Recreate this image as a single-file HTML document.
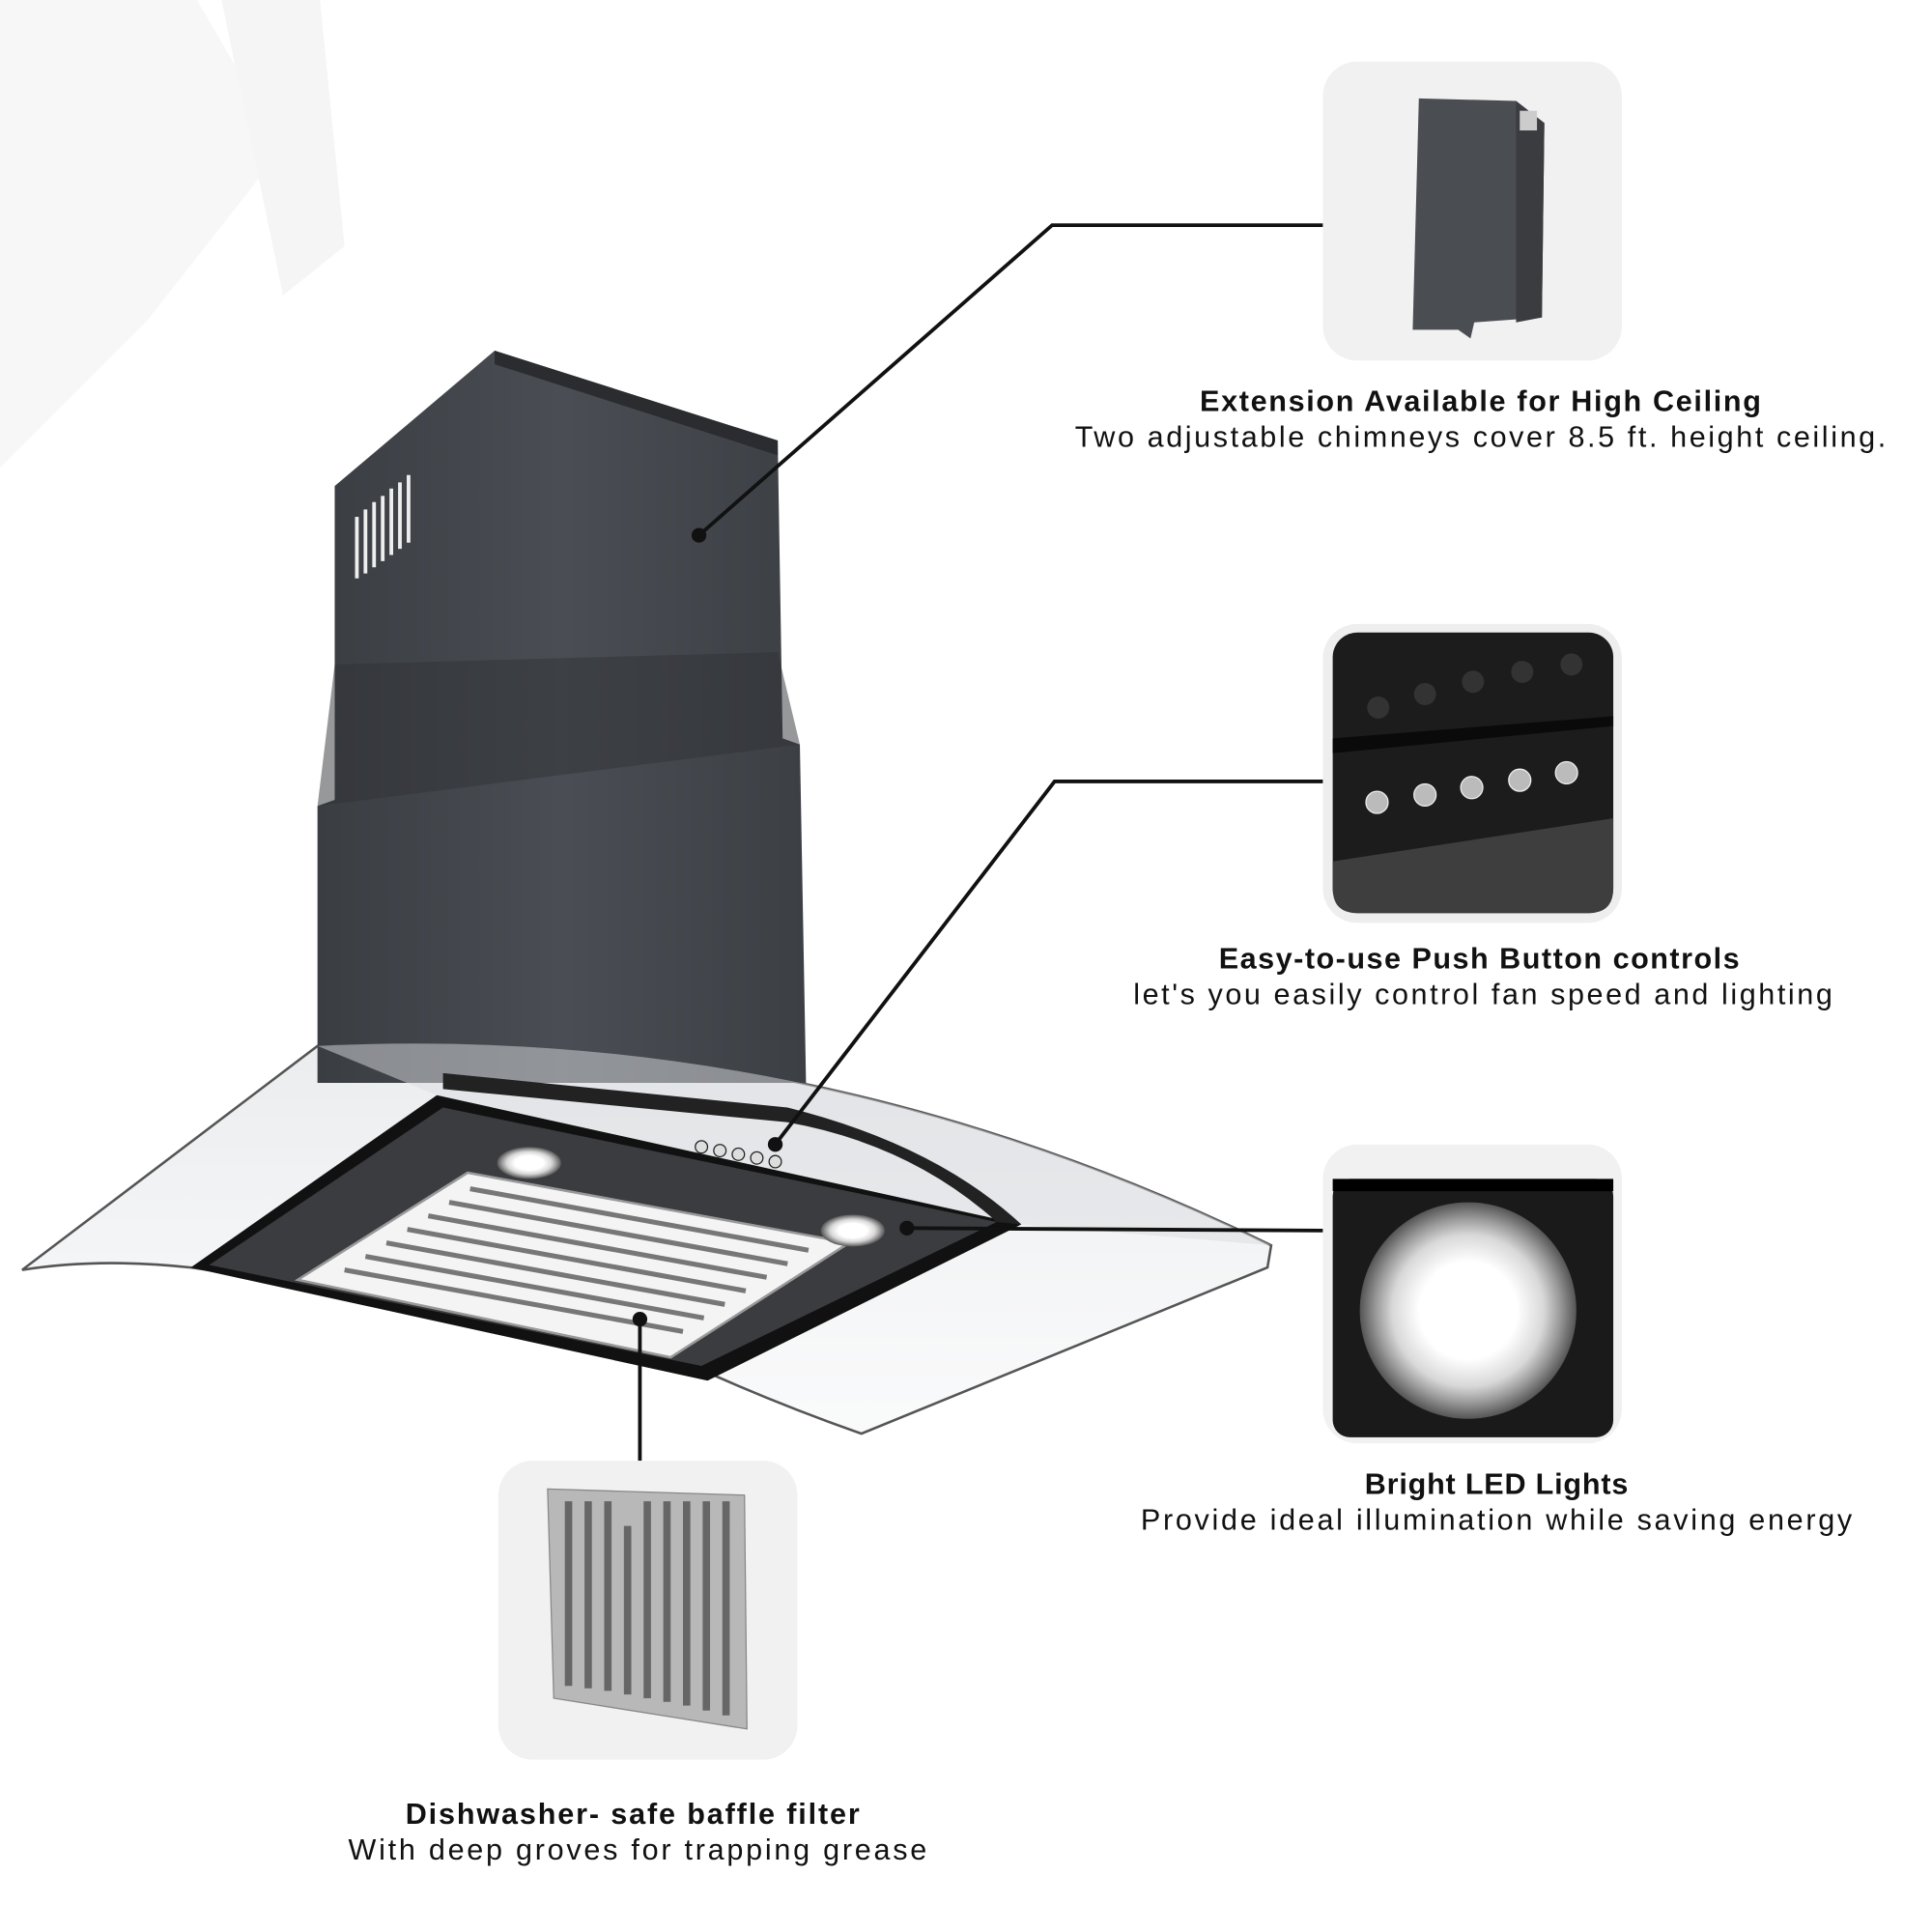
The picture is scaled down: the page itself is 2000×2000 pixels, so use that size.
<!DOCTYPE html>
<html><head><meta charset="utf-8"><style>
html,body{margin:0;padding:0;background:#fff;}
svg{display:block;}
text{font-family:"Liberation Sans",sans-serif;fill:#111;}
.b{font-weight:bold;font-size:24px;}
.n{font-size:24px;}
</style></head><body>
<svg width="2000" height="2000" viewBox="0 0 1570 1570" xmlns="http://www.w3.org/2000/svg">
<defs>
<linearGradient id="ch" x1="0" y1="0" x2="1" y2="0">
<stop offset="0" stop-color="#3a3d42"/><stop offset="0.5" stop-color="#4a4e54"/><stop offset="1" stop-color="#3c3f44"/></linearGradient>
<linearGradient id="gl" x1="0" y1="0" x2="0" y2="1">
<stop offset="0" stop-color="#e8eaec" stop-opacity="0.9"/><stop offset="1" stop-color="#f6f7f8" stop-opacity="0.6"/></linearGradient>
<radialGradient id="led"><stop offset="0.45" stop-color="#fff"/><stop offset="0.7" stop-color="#d8d8d8"/><stop offset="0.85" stop-color="#9a9a9a"/><stop offset="1" stop-color="#555"/></radialGradient>
</defs>
<rect width="1570" height="1570" fill="#fff"/>
<path d="M0,0 L160,0 L230,120 L120,260 L0,380Z" fill="#f7f7f7"/>
<path d="M180,0 L260,0 L280,200 L230,240Z" fill="#f5f5f5"/>
<path d="M18,1032 L258,850 Q660,830 1033,1012 L1030,1030 L700,1165 Q600,1130 500,1080 L155,1030 Q80,1022 18,1032Z" fill="url(#gl)" stroke="#555" stroke-width="2"/>
<path d="M272,395 L402,285 L632,358 L636,600 L650,605 L655,880 L258,880 L258,655 L272,650Z" fill="url(#ch)"/>
<path d="M272,540 L632,530 L650,605 L258,655Z" fill="#2f3236" opacity="0.5"/>
<path d="M402,285 L632,358 L632,370 L402,296Z" fill="#2a2c30"/>
<g stroke="#eee" stroke-width="3">
<line x1="290" y1="420" x2="290" y2="470"/><line x1="297" y1="414" x2="297" y2="466"/><line x1="304" y1="408" x2="304" y2="461"/><line x1="311" y1="403" x2="311" y2="456"/><line x1="318" y1="397" x2="318" y2="451"/><line x1="325" y1="392" x2="325" y2="446"/><line x1="332" y1="386" x2="332" y2="441"/></g>
<path d="M258,850 Q660,830 1033,1012 L830,995 L355,890Z" fill="#d9dcdf" opacity="0.5"/>
<path d="M155,1030 L355,890 L830,995 L575,1122Z" fill="#111"/>
<path d="M170,1028 L360,900 L810,993 L570,1110Z" fill="#3a3c40"/>
<path d="M360,872 L640,900 Q760,930 830,995 L810,993 Q740,930 640,912 L360,885Z" fill="#222"/>
<path d="M242,1040 L380,953 L690,1010 L545,1103Z" fill="#f4f4f4" stroke="#999" stroke-width="2"/>
<g stroke="#777" stroke-width="4">
<line x1="280" y1="1032" x2="555" y2="1082"/><line x1="297" y1="1021" x2="572" y2="1071"/><line x1="314" y1="1010" x2="589" y2="1060"/><line x1="331" y1="999" x2="606" y2="1049"/><line x1="348" y1="988" x2="623" y2="1038"/><line x1="365" y1="977" x2="640" y2="1027"/><line x1="382" y1="966" x2="657" y2="1016"/></g>
<ellipse cx="430" cy="945" rx="26" ry="13" fill="url(#led)"/>
<ellipse cx="693" cy="1000" rx="26" ry="13" fill="url(#led)"/>
<g fill="#ddd" stroke="#222"><circle cx="570" cy="932" r="5"/><circle cx="585" cy="935" r="5"/><circle cx="600" cy="938" r="5"/><circle cx="615" cy="941" r="5"/><circle cx="630" cy="944" r="5"/></g>
<g stroke="#111" stroke-width="3" fill="none">
<polyline points="568,435 855,183 1075,183"/>
<polyline points="630,930 857,635 1075,635"/>
<polyline points="737,998 1075,1000"/>
<polyline points="520,1072 520,1187"/></g>
<g fill="#111"><circle cx="568" cy="435" r="6"/><circle cx="630" cy="930" r="6"/><circle cx="737" cy="998" r="6"/><circle cx="520" cy="1072" r="6"/></g>
<rect x="1075" y="50" width="243" height="243" rx="28" fill="#f1f1f1"/>
<path d="M1153,80 L1232,82 L1255,100 L1253,258 L1198,262 L1195,275 L1185,268 L1148,268Z" fill="#4a4d52"/>
<path d="M1232,82 L1255,100 L1253,258 L1232,262Z" fill="#3a3c40"/>
<rect x="1235" y="90" width="14" height="16" fill="#ccc"/>
<rect x="1075" y="507" width="243" height="243" rx="28" fill="#eeeeee"/>
<rect x="1083" y="514" width="228" height="228" rx="20" fill="#1c1c1c"/>
<path d="M1083,600 L1311,582 L1311,590 L1083,612Z" fill="#0a0a0a"/>
<path d="M1083,700 L1311,665 L1311,722 Q1311,742 1291,742 L1103,742 Q1083,742 1083,722Z" fill="#3e3e3e"/>
<g fill="#333"><circle cx="1120" cy="575" r="9"/><circle cx="1158" cy="564" r="9"/><circle cx="1197" cy="554" r="9"/><circle cx="1237" cy="546" r="9"/><circle cx="1277" cy="540" r="9"/></g>
<g fill="#bbb" stroke="#eee"><circle cx="1119" cy="652" r="9"/><circle cx="1158" cy="646" r="9"/><circle cx="1196" cy="640" r="9"/><circle cx="1235" cy="634" r="9"/><circle cx="1273" cy="628" r="9"/></g>
<rect x="1075" y="930" width="243" height="243" rx="28" fill="#f1f1f1"/>
<rect x="1083" y="958" width="228" height="210" rx="14" fill="#1a1a1a"/>
<rect x="1083" y="958" width="228" height="10" fill="#000"/>
<circle cx="1193" cy="1065" r="88" fill="url(#led)"/>
<rect x="405" y="1187" width="243" height="243" rx="28" fill="#f1f1f1"/>
<path d="M445,1210 L605,1215 L607,1405 L450,1380Z" fill="#b8b8b8" stroke="#888"/>
<g stroke="#666" stroke-width="6"><line x1="462" y1="1220" x2="462" y2="1370"/><line x1="478" y1="1220" x2="478" y2="1372"/><line x1="494" y1="1220" x2="494" y2="1374"/><line x1="510" y1="1240" x2="510" y2="1377"/><line x1="526" y1="1220" x2="526" y2="1380"/><line x1="542" y1="1220" x2="542" y2="1383"/><line x1="558" y1="1220" x2="558" y2="1386"/><line x1="574" y1="1220" x2="574" y2="1390"/><line x1="590" y1="1220" x2="590" y2="1394"/></g>
<text class="b" x="1203" y="334" text-anchor="middle" textLength="456">Extension Available for High Ceiling</text>
<text class="n" x="1203" y="363" text-anchor="middle" textLength="659">Two adjustable chimneys cover 8.5 ft. height ceiling.</text>
<text class="b" x="1202" y="787" text-anchor="middle" textLength="423">Easy-to-use Push Button controls</text>
<text class="n" x="1205" y="816" text-anchor="middle" textLength="568">let's you easily control fan speed and lighting</text>
<text class="b" x="1216" y="1214" text-anchor="middle" textLength="214">Bright LED Lights</text>
<text class="n" x="1216" y="1243" text-anchor="middle" textLength="578">Provide ideal illumination while saving energy</text>
<text class="b" x="514" y="1482" text-anchor="middle" textLength="369">Dishwasher- safe baffle filter</text>
<text class="n" x="518" y="1511" text-anchor="middle" textLength="470">With deep groves for trapping grease</text>
</svg>
</body></html>
